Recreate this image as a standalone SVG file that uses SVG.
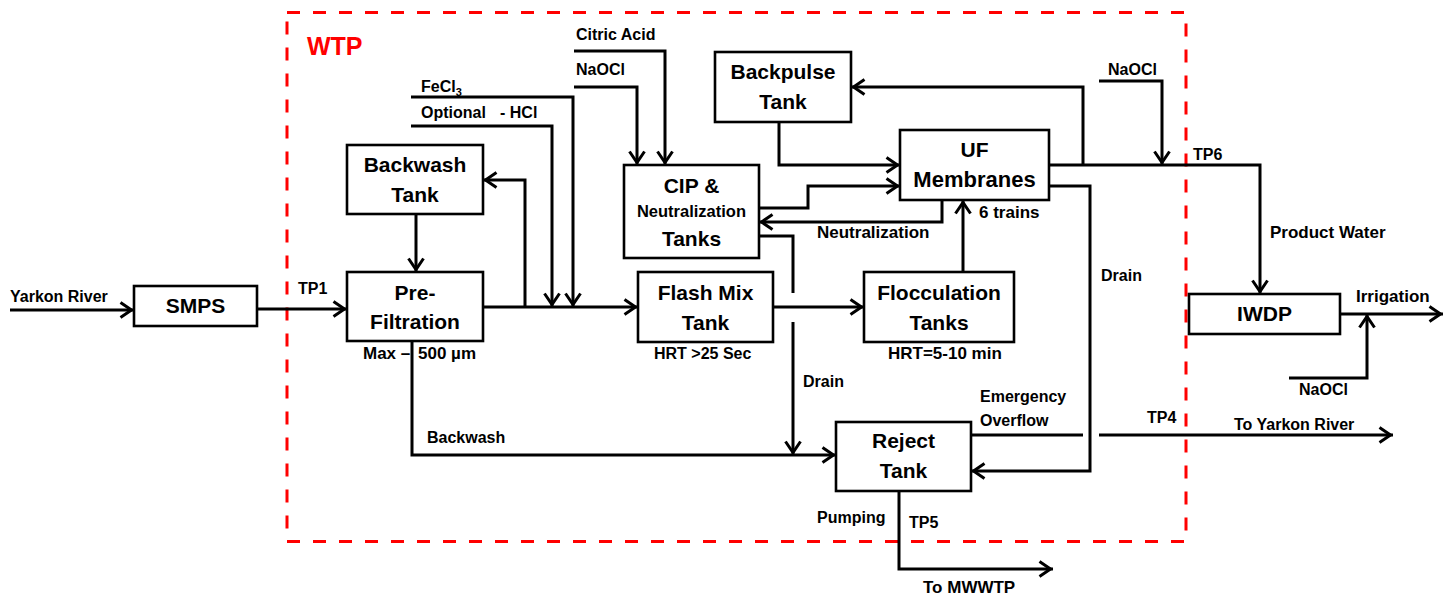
<svg xmlns="http://www.w3.org/2000/svg" width="1452" height="597" viewBox="0 0 1452 597">
<style>
text{font-family:"Liberation Sans",Arial,sans-serif;font-weight:bold;fill:#000}
.box{fill:#fff;stroke:#000;stroke-width:2.6}
.bl{font-size:21px;text-anchor:middle}
.l16{font-size:16px}
.l17{font-size:17px}
.c{fill:none;stroke:#000;stroke-width:3}
.a{marker-end:url(#arr)}
</style>
<defs>
<marker id="arr" markerUnits="userSpaceOnUse" viewBox="0 0 18 18" markerWidth="18" markerHeight="18" refX="15.5" refY="9" orient="auto" overflow="visible">
<path d="M2,1.5 L13,9 L2,16.5" fill="none" stroke="#000" stroke-width="3"/>
</marker>
</defs>
<rect width="1452" height="597" fill="#fff"/>
<g id="wtp-boundary">
<rect x="287" y="12.5" width="899" height="529" fill="none" stroke="#ff0000" stroke-width="3" stroke-dasharray="13,13"/>
<text x="307" y="55" style="font-size:25px;fill:#ff0000">WTP</text>
</g>
<g id="connectors">
<path class="c a" d="M10,310 H134"/>
<path class="c a" d="M257,309 H347"/>
<path class="c a" d="M416,214 V272"/>
<path class="c a" d="M483,307 H638"/>
<path class="c a" d="M525,307 V180 H483"/>
<path class="c a" d="M411,97 H573 V307"/>
<path class="c a" d="M411,126 H552 V307"/>
<path class="c a" d="M574,51 H665 V165"/>
<path class="c a" d="M574,87 H637 V165"/>
<path class="c a" d="M779,122 V165 H900"/>
<path class="c a" d="M759,208 H808 V186 H900"/>
<path class="c a" d="M942,200 V222 H759"/>
<path class="c" d="M759,236 H793 V293"/>
<path class="c a" d="M793,322 V455"/>
<path class="c a" d="M773,307 H864"/>
<path class="c a" d="M963,272 V200"/>
<path class="c a" d="M1049,165 H1260 V294"/>
<path class="c a" d="M1083,165 V87 H851"/>
<path class="c a" d="M1099,81 H1162 V165"/>
<path class="c a" d="M1049,186 H1090 V471 H971"/>
<path class="c" d="M971,435 H1083"/>
<path class="c a" d="M1099,435 H1393"/>
<path class="c a" d="M412,341 V455 H836"/>
<path class="c a" d="M899,491 V569 H1053"/>
<path class="c a" d="M1340,314 H1443"/>
<path class="c a" d="M1289,378 H1367 V314"/>
</g>
<g id="smps">
<rect class="box" x="134" y="286" width="123" height="40"/>
<text class="bl" x="195.5" y="313">SMPS</text>
</g>
<g id="pre-filtration">
<rect class="box" x="347" y="272" width="136" height="69"/>
<text class="bl" x="415" y="300">Pre-</text>
<text class="bl" x="415" y="329">Filtration</text>
</g>
<g id="backwash-tank">
<rect class="box" x="347" y="145" width="136" height="69"/>
<text class="bl" x="415" y="172">Backwash</text>
<text class="bl" x="415" y="202">Tank</text>
</g>
<g id="cip-tanks">
<rect class="box" x="624" y="165" width="135" height="93"/>
<text class="bl" x="691.5" y="193">CIP &amp;</text>
<text class="bl" x="691.5" y="217" style="font-size:16.5px">Neutralization</text>
<text class="bl" x="691.5" y="246">Tanks</text>
</g>
<g id="flash-mix-tank">
<rect class="box" x="638" y="272" width="135" height="70"/>
<text class="bl" x="705.5" y="300">Flash Mix</text>
<text class="bl" x="705.5" y="330">Tank</text>
</g>
<g id="flocculation-tanks">
<rect class="box" x="864" y="272" width="150" height="70"/>
<text class="bl" x="939" y="300">Flocculation</text>
<text class="bl" x="939" y="330">Tanks</text>
</g>
<g id="backpulse-tank">
<rect class="box" x="715" y="52" width="136" height="70"/>
<text class="bl" x="783" y="79">Backpulse</text>
<text class="bl" x="783" y="109">Tank</text>
</g>
<g id="uf-membranes">
<rect class="box" x="900" y="130" width="149" height="70"/>
<text class="bl" x="974.5" y="157">UF</text>
<text class="bl" x="974.5" y="187" style="font-size:22px">Membranes</text>
</g>
<g id="reject-tank">
<rect class="box" x="836" y="422" width="135" height="69"/>
<text class="bl" x="903.5" y="448">Reject</text>
<text class="bl" x="903.5" y="478">Tank</text>
</g>
<g id="iwdp">
<rect class="box" x="1189" y="294" width="151" height="40"/>
<text class="bl" x="1264.5" y="321">IWDP</text>
</g>
<g id="labels">
<text class="l16" x="10" y="302">Yarkon River</text>
<text class="l16" x="298" y="294">TP1</text>
<text class="l17" x="363" y="359">Max – <tspan x="418">500 µm</tspan></text>
<text class="l16" x="427" y="443">Backwash</text>
<text class="l16" x="421" y="92">FeCl<tspan style="font-size:11px" dy="4">3</tspan></text>
<text class="l16" x="421" y="118">Optional <tspan x="500">- HCl</tspan></text>
<text class="l16" x="576" y="40">Citric Acid</text>
<text class="l16" x="576" y="75">NaOCl</text>
<text class="l17" x="817" y="238">Neutralization</text>
<text class="l17" x="979" y="218">6 trains</text>
<text class="l16" x="654" y="359">HRT &gt;25 Sec</text>
<text class="l17" x="888" y="359">HRT=5-10 min</text>
<text class="l16" x="803" y="387">Drain</text>
<text class="l16" x="980" y="402">Emergency</text>
<text class="l16" x="980" y="426">Overflow</text>
<text class="l16" x="817" y="523">Pumping</text>
<text class="l16" x="909" y="528">TP5</text>
<text class="l17" x="923" y="593">To MWWTP</text>
<text class="l16" x="1101" y="281">Drain</text>
<text class="l16" x="1108" y="75">NaOCl</text>
<text class="l16" x="1193" y="160">TP6</text>
<text class="l17" x="1270" y="238">Product Water</text>
<text class="l17" x="1356" y="302">Irrigation</text>
<text class="l16" x="1299" y="395">NaOCl</text>
<text class="l16" x="1147" y="423">TP4</text>
<text class="l16" x="1234" y="430">To Yarkon River</text>
</g>
</svg>
